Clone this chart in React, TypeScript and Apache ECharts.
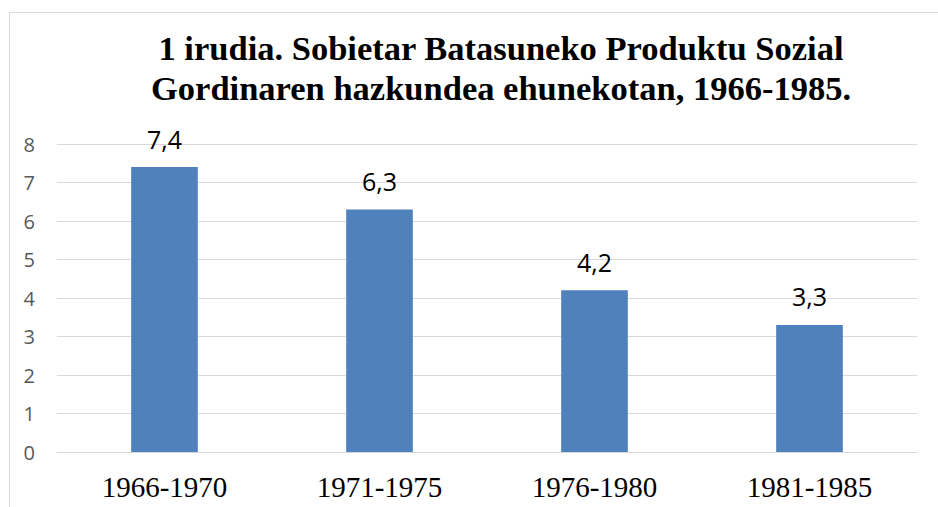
import React, { useEffect, useRef } from "react";
import * as echarts from "echarts";

const titleLines = [
  "1 irudia. Sobietar Batasuneko Produktu Sozial",
  "Gordinaren hazkundea ehunekotan, 1966-1985.",
];
const categories = ["1966-1970", "1971-1975", "1976-1980", "1981-1985"];
const growth = [7.4, 6.3, 4.2, 3.3];
const yMin = 0;
const yMax = 8;
const yStep = 1;

export default function App() {
  const ref = useRef<HTMLDivElement>(null);
  useEffect(() => {
    if (!ref.current) return;
    const chart = echarts.init(ref.current, null, { renderer: "svg" });
    chart.setOption({
      animation: false,
      backgroundColor: "#ffffff",
      graphic: [
        {
          type: "rect",
          shape: { x: 9.5, y: 12.5, width: 1000, height: 600 },
          style: { fill: "none", stroke: "#d9d9d9", lineWidth: 1 },
          silent: true,
        },
        {
          type: "text",
          x: 501,
          y: 28,
          style: {
            text: titleLines.join("\n"),
            fontFamily: "Liberation Serif",
            fontWeight: "bold",
            fontSize: 34.5,
            lineHeight: 40,
            fill: "#000000",
            align: "center",
            verticalAlign: "top",
          },
        },
      ],
      grid: { left: 57, right: 21, top: 144, bottom: 55, containLabel: false },
      xAxis: {
        type: "category",
        data: categories,
        axisLine: { show: true, lineStyle: { color: "#d9d9d9", width: 1 } },
        axisTick: { show: false },
        axisLabel: {
          margin: 20,
          fontFamily: "Liberation Serif",
          fontSize: 29,
          color: "#000000",
        },
      },
      yAxis: {
        type: "value",
        min: yMin,
        max: yMax,
        interval: yStep,
        axisLine: { show: false },
        axisTick: { show: false },
        splitLine: { lineStyle: { color: "#d9d9d9", width: 1 } },
        axisLabel: {
          margin: 22,
          fontFamily: "Open Sans",
          fontSize: 20,
          color: "#595959",
        },
      },
      series: [
        {
          type: "bar",
          data: growth,
          barWidth: "31%",
          itemStyle: { color: "#4f81bd" },
          label: {
            show: true,
            position: "top",
            distance: 16,
            fontFamily: "Open Sans",
            fontSize: 25,
            color: "#000000",
            formatter: (p: any) => String(p.value).replace(".", ","),
          },
        },
      ],
    });
    return () => chart.dispose();
  }, []);
  return (
    <div
      ref={ref}
      style={{ position: "fixed", left: 0, top: 0, width: 938, height: 507 }}
    />
  );
}
